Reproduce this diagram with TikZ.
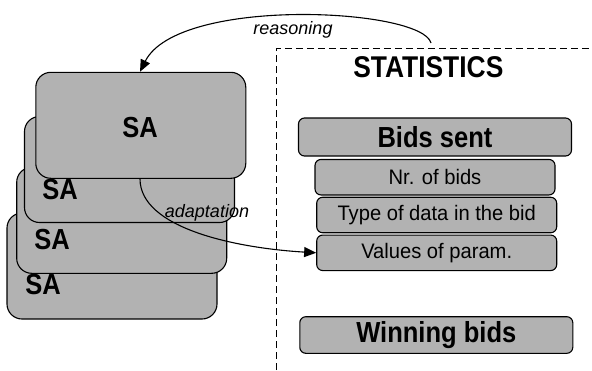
\documentclass[tikz,border=0pt]{standalone}
\usepackage{fontspec}
\setmainfont{Liberation Sans}
\newfontfamily\condbig[FakeStretch=0.88]{Liberation Sans}
\newfontfamily\condmid[FakeStretch=0.96]{Liberation Sans}
\usetikzlibrary{arrows.meta}
\definecolor{boxgray}{RGB}{178,178,178}
\begin{document}
\begin{tikzpicture}[x=1pt,y=-1pt,
  sabox/.style={draw=black, line width=1.1pt, fill=boxgray, rounded corners=15pt,
    minimum width=210pt, minimum height=106pt, inner sep=0pt},
  bigbox/.style={draw=black, line width=1.1pt, fill=boxgray, rounded corners=6pt,
    minimum width=273pt, minimum height=38pt, inner sep=0pt,
    font=\condbig\bfseries\fontsize{29}{30}\selectfont},
  smallbox/.style={draw=black, line width=1.1pt, fill=boxgray, rounded corners=6pt,
    minimum width=240pt, minimum height=35.5pt, inner sep=0pt,
    font=\condmid\fontsize{21}{22}\selectfont},
  satext/.style={inner sep=0pt, font=\condbig\bfseries\fontsize{29}{30}\selectfont},
  lbl/.style={inner sep=0pt, font=\itshape\fontsize{18}{19}\selectfont},
  conn/.style={line width=1.1pt, -{Triangle[length=12pt,width=10pt]}},
  frame/.style={line width=1.1pt, dash pattern=on 7pt off 4pt}
]
\useasboundingbox (0,0) rectangle (592,370);
% dashed statistics frame
\draw[frame] (276.5,370) -- (276.5,48.3) -- (592,48.3);
\node[inner sep=0pt, font=\condbig\bfseries\fontsize{30}{31}\selectfont] (stat) at (428.3,67) {STATISTICS};
% SA stack
\node[sabox] (sa4) at (112,266) {};
\node[satext] (sa4t) at (43,285) {SA};
\node[sabox] (sa3) at (121.7,220.3) {};
\node[satext] (sa3t) at (52,240) {SA};
\node[sabox] (sa2) at (129.5,169.5) {};
\node[satext] (sa2t) at (60,190) {SA};
\node[sabox] (sa1) at (140.8,125.3) {};
\node[satext] (sa1t) at (140,128) {SA};
% statistics boxes
\node[bigbox] (bids) at (435,137) {Bids sent};
\node[smallbox] (nr) at (435,177.2) {Nr. of bids};
\node[smallbox] (type) at (436.7,215) {Type of data in the bid};
\node[smallbox] (vals) at (436.7,252.8) {Values of param.};
\node[bigbox, minimum height=36.6pt] (win) at (436.3,335) {Winning bids};
% connectors
\coordinate (rs) at (431,43);
\draw[conn] (rs) .. controls (422,8) and (178,-4) .. (sa1.north -| sa1t);
\draw[conn] (sa1.south -| sa1t) .. controls (140,228) and (235,248) .. (vals.west);
\node[lbl] (reas) at (293,30) {reasoning};
\node[lbl] (adapt) at (207,213) {adaptation};
\end{tikzpicture}
\end{document}
